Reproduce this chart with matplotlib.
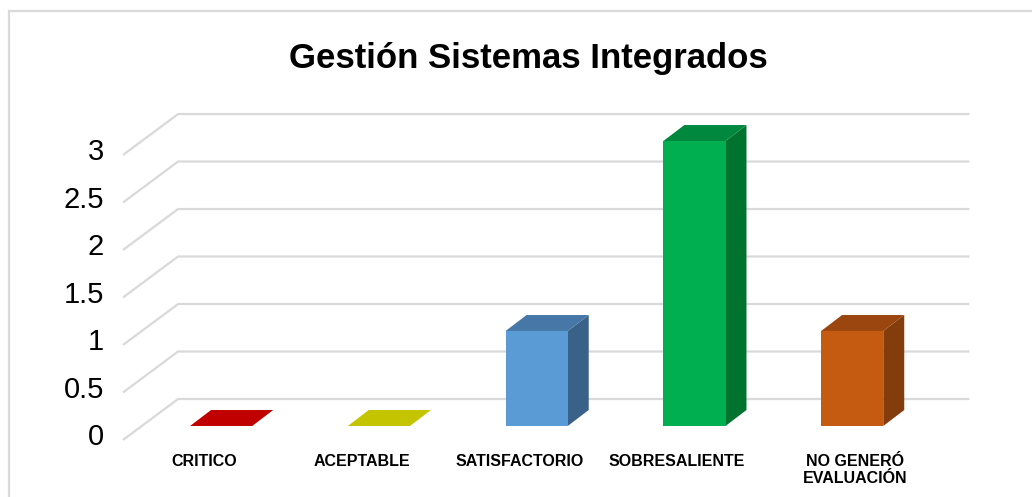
import matplotlib
matplotlib.use("Agg")
import matplotlib.pyplot as plt
from matplotlib.patches import Polygon, Rectangle

plt.rcParams["font.family"] = ["Liberation Sans", "DejaVu Sans"]

# ── data ────────────────────────────────────────────────────────────────────
categories = ["CRITICO", "ACEPTABLE", "SATISFACTORIO", "SOBRESALIENTE",
              "NO GENERÓ\nEVALUACIÓN"]
values = [0, 0, 1, 3, 1]
yticks = [0, 0.5, 1, 1.5, 2, 2.5, 3]
title = "Gestión Sistemas Integrados"

# front / top / side colours per bar
front_cols = ["#C00000", "#C4C400", "#5B9BD5", "#00B050", "#C55A11"]
top_cols = ["#C00000", "#C4C400", "#4677A6", "#00883E", "#9A460E"]
side_cols = ["#8E0000", "#929200", "#3A6288", "#00742F", "#833C0C"]

# fake-3D geometry (data units)
half_w = 0.197          # half width of a bar front
bdx, bdy = 0.133, 0.168  # bar depth offset
floor_front = -0.147    # gridline front end, relative to value
floor_back = 0.284      # gridline back plane, relative to value
grid_x0, grid_x1, slant_x0 = -0.273, 4.743, -0.622
label_dx = [-0.11, -0.11, -0.11, -0.11, 0.02]

W, H = 1032, 497
fig = plt.figure(figsize=(W / 100, H / 100), dpi=100)
fig.patch.set_facecolor("white")

# outer frame (right/bottom edges run off the picture)
fig.patches.append(Rectangle((9 / W, -0.1), 1.2, (H - 11) / H + 0.1,
                             transform=fig.transFigure, fill=False,
                             edgecolor="#D9D9D9", linewidth=1.6))

ax = fig.add_axes([100 / W, (H - 490) / H, 900 / W, 390 / H])
ax.set_xlim(-0.768, 4.937)
ax.set_ylim(-0.674, 3.4316)
ax.axis("off")

grid_col = "#D9D9D9"
for v in yticks:
    ax.plot([slant_x0, grid_x0, grid_x1],
            [v + floor_front, v + floor_back, v + floor_back],
            color=grid_col, lw=1.6, solid_capstyle="butt", zorder=1)
    ax.text(-0.743, v + floor_front + 0.03, f"{v:g}", ha="right", va="center",
            fontsize=21, color="#000000")

for i, (val, fc, tc, sc) in enumerate(zip(values, front_cols, top_cols, side_cols)):
    x0, x1 = i - half_w, i + half_w
    if val > 0:
        ax.add_patch(Polygon([(x1, 0), (x1 + bdx, bdy), (x1 + bdx, val + bdy), (x1, val)],
                             closed=True, facecolor=sc, edgecolor="none", zorder=3))
        ax.add_patch(Polygon([(x0, 0), (x1, 0), (x1, val), (x0, val)],
                             closed=True, facecolor=fc, edgecolor="none", zorder=3))
    ax.add_patch(Polygon([(x0, val), (x1, val), (x1 + bdx, val + bdy), (x0 + bdx, val + bdy)],
                         closed=True, facecolor=tc, edgecolor="none", zorder=3))
    ax.text(i + label_dx[i], -0.29, categories[i], ha="center", va="top",
            fontsize=11.5, fontweight="bold", linespacing=1.2)

fig.text(528.5 / W, (H - 68) / H, title, ha="center", va="baseline",
         fontsize=25, fontweight="bold")

fig.savefig("out.png", dpi=100, facecolor="white")
